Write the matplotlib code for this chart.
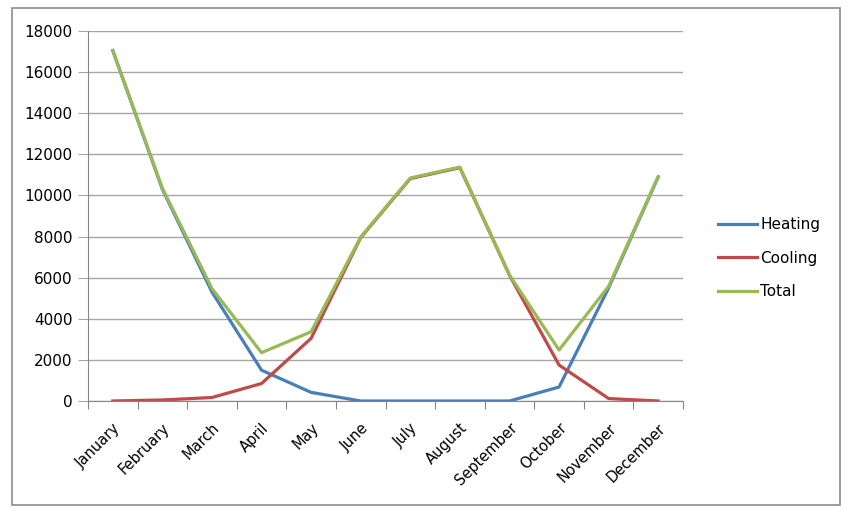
import numpy as np
import matplotlib.pyplot as plt
from matplotlib.patches import Rectangle

# datos
meses = ["January", "February", "March", "April", "May", "June",
         "July", "August", "September", "October", "November", "December"]
heating = [17050, 10300, 5300, 1500, 420, 0, 0, 0, 0, 680, 5500, 10900]
cooling = [0, 50, 170, 850, 3050, 7950, 10820, 11350, 6120, 1750, 120, 0]
total = [17050, 10350, 5470, 2350, 3370, 7980, 10850, 11380, 6130, 2480, 5580, 10920]

plt.rcParams["font.family"] = ["DejaVu Sans"]

fig = plt.figure(figsize=(8.48, 5.11), dpi=100)
ax = fig.add_axes([88 / 848, 1 - 401 / 511, (683 - 88) / 848, (401 - 31) / 511])

# marco exterior
fig.patches.append(Rectangle((12 / 848, 1 - 505 / 511), 828 / 848, 497 / 511,
                             transform=fig.transFigure, fill=False,
                             edgecolor="#8c8c8c", linewidth=1.2))

x = np.arange(len(meses))
ax.plot(x, heating, color="#4A7EBB", lw=2.3, label="Heating", solid_joinstyle="round")
ax.plot(x, cooling, color="#BE4B48", lw=2.3, label="Cooling", solid_joinstyle="round")
ax.plot(x, total, color="#98B954", lw=2.3, label="Total", solid_joinstyle="round")

ax.set_xlim(-0.5, len(meses) - 0.5)
ax.set_ylim(0, 18000)
ax.set_yticks(np.arange(0, 18001, 2000))
ax.yaxis.grid(True, color="#a6a6a6", lw=1)
ax.set_axisbelow(True)

ax.set_xticks(np.arange(-0.5, len(meses), 1))
ax.set_xticklabels([])
ax.set_xticks(x, minor=True)
ax.set_xticklabels(meses, minor=True, rotation=45, ha="right",
                   rotation_mode="anchor", fontsize=10.5)
ax.tick_params(axis="x", which="major", length=6, color="#868686", direction="out")
ax.tick_params(axis="x", which="minor", length=0, pad=14)
ax.tick_params(axis="y", length=7, color="#a6a6a6", labelsize=11, pad=4)

for s in ["top", "right"]:
    ax.spines[s].set_visible(False)
ax.spines["left"].set_color("#868686")
ax.spines["bottom"].set_color("#868686")

ax.legend(loc="center left", bbox_to_anchor=(1.049, 0.386), frameon=False,
          fontsize=11, handlelength=2.55, handletextpad=0.2, labelspacing=1.2,
          borderaxespad=0)

plt.savefig("out.png", dpi=100)
